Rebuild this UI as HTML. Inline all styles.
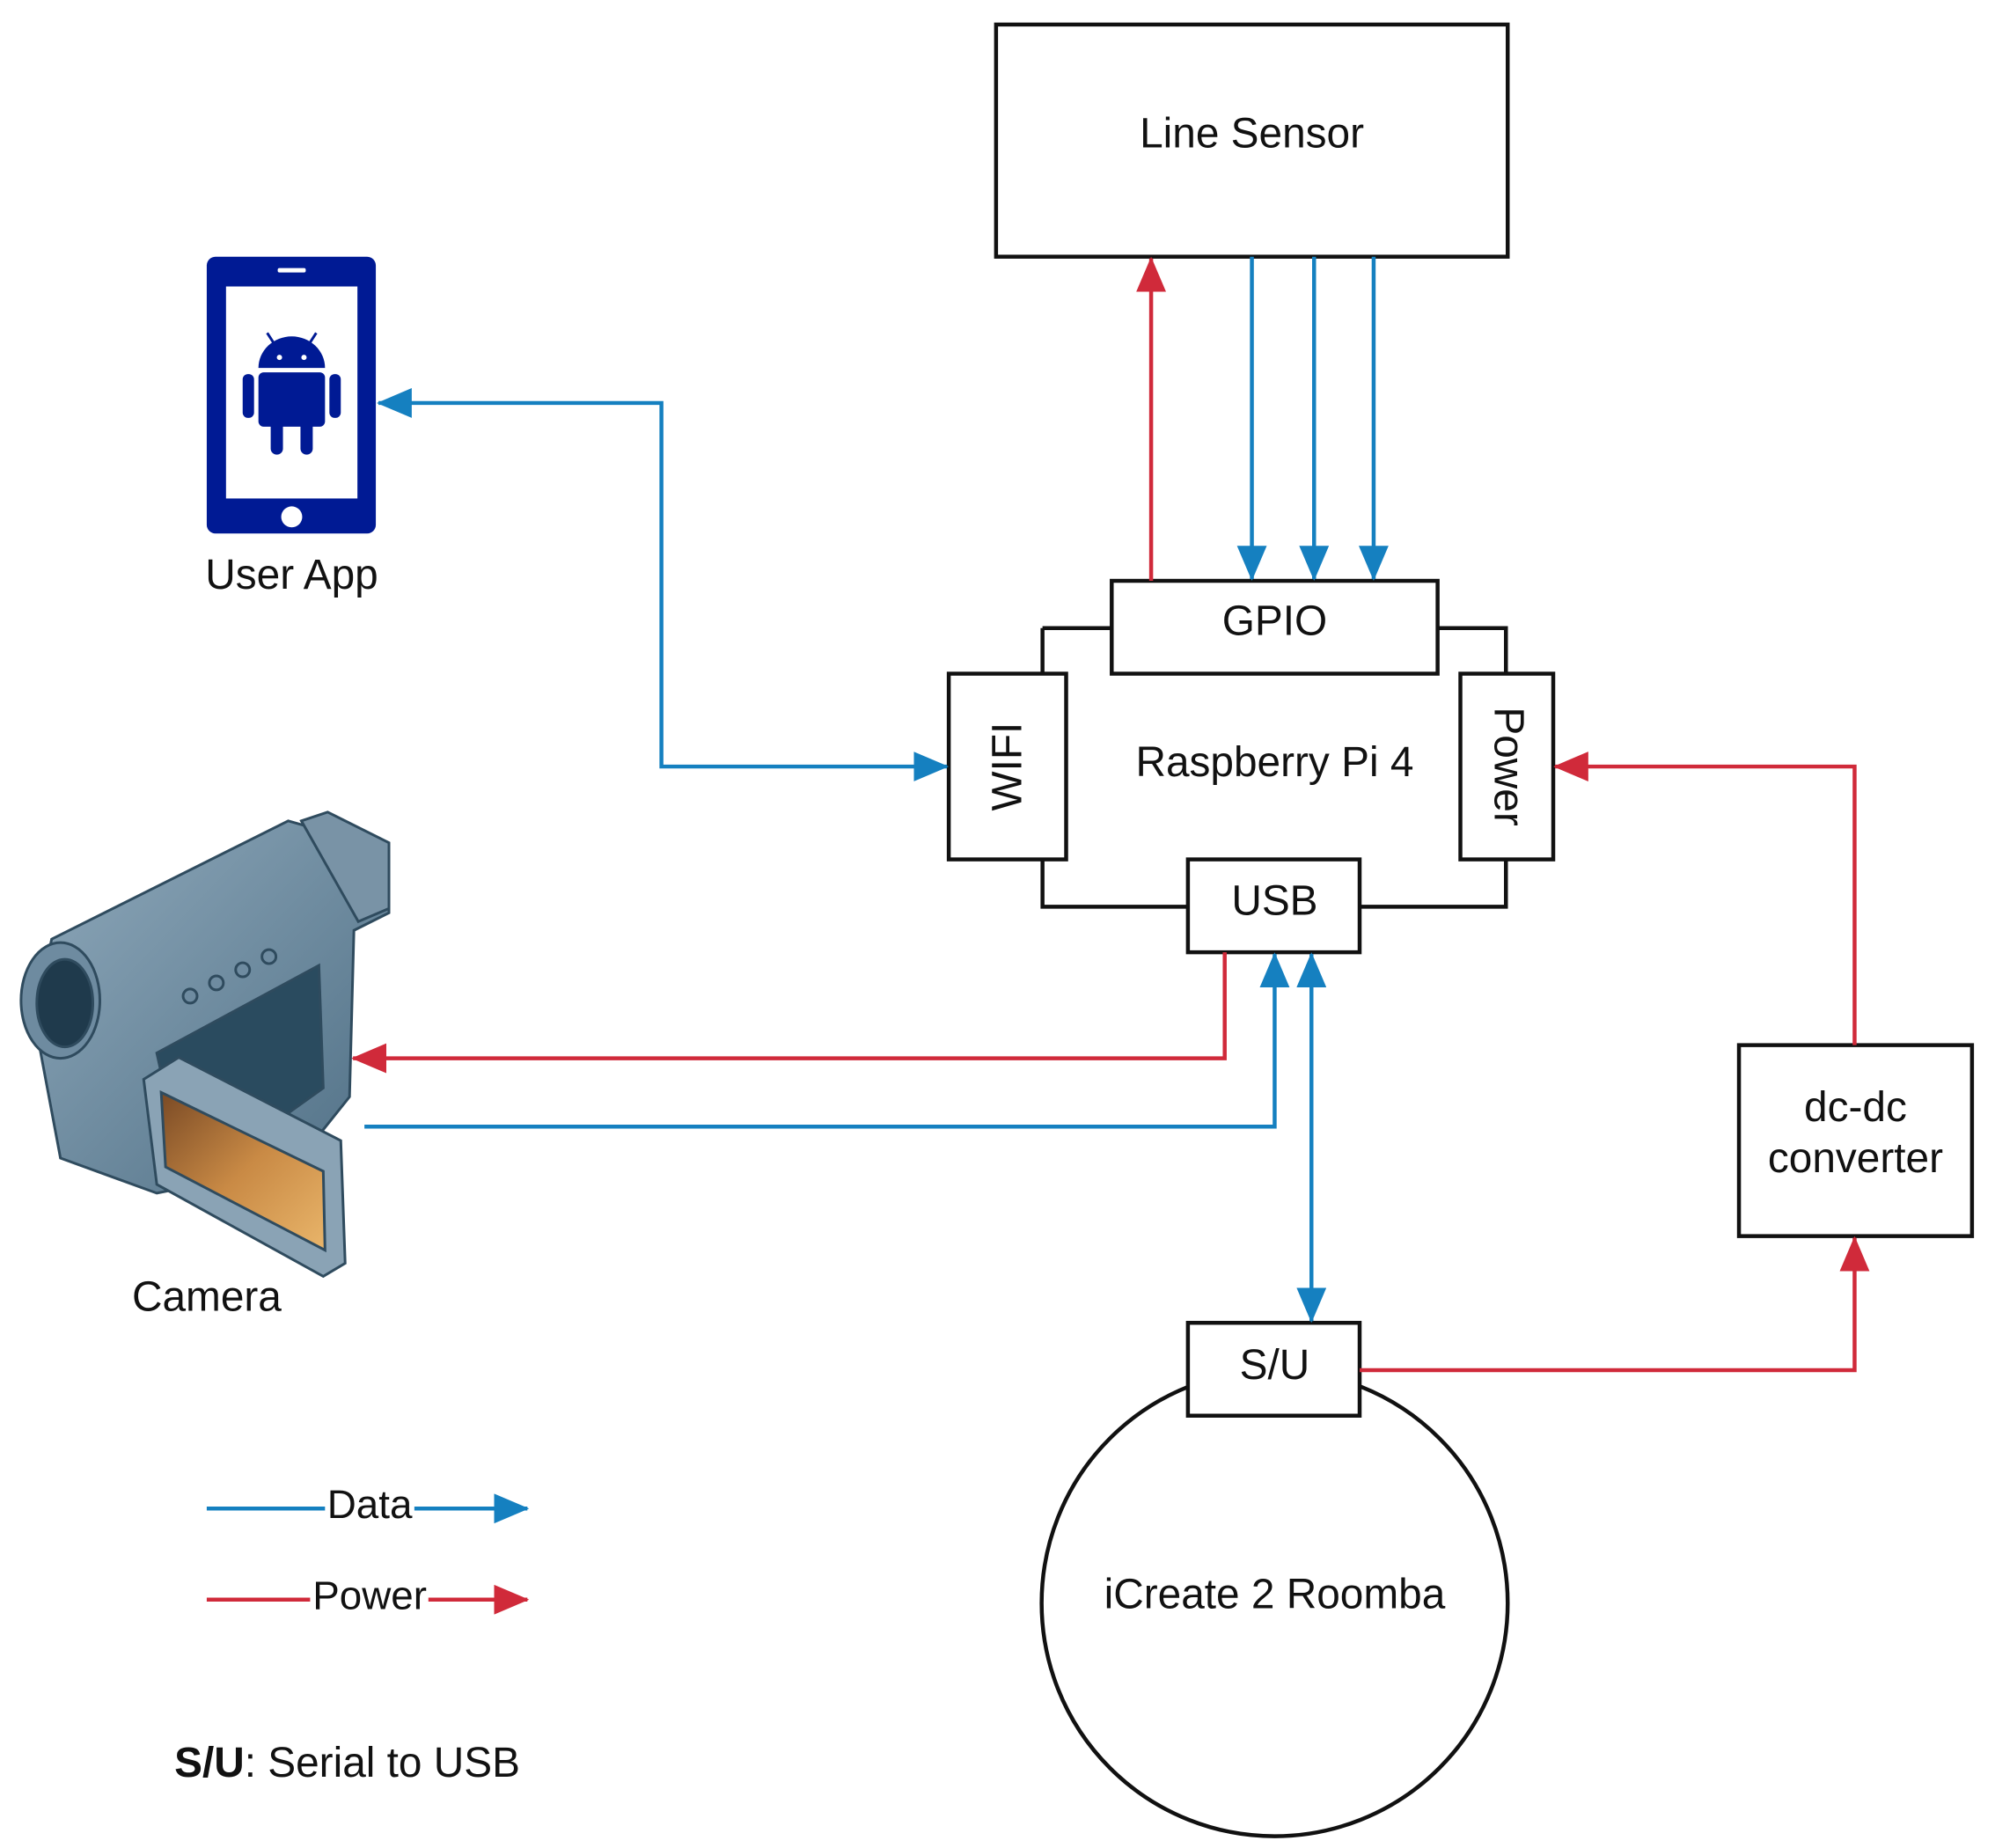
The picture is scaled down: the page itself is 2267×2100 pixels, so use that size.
<!DOCTYPE html>
<html><head><meta charset="utf-8"><style>
html,body{margin:0;padding:0;background:#fff;}
svg{display:block;}
text{font-family:"Liberation Sans",Arial,sans-serif;font-size:48px;fill:#111;}
</style></head><body>
<svg width="2267" height="2100" viewBox="0 0 2267 2100" xmlns="http://www.w3.org/2000/svg">
<defs>
<marker id="ab" markerUnits="userSpaceOnUse" markerWidth="40" markerHeight="34" refX="38" refY="17" orient="auto"><path d="M0,0 L40,17 L0,34 Z" fill="#1580c0"/></marker>
<marker id="ar" markerUnits="userSpaceOnUse" markerWidth="40" markerHeight="34" refX="38" refY="17" orient="auto"><path d="M0,0 L40,17 L0,34 Z" fill="#d02a3a"/></marker>
<marker id="abs" markerUnits="userSpaceOnUse" markerWidth="40" markerHeight="34" refX="2" refY="17" orient="auto"><path d="M40,0 L0,17 L40,34 Z" fill="#1580c0"/></marker>
<linearGradient id="cg" x1="0" y1="0" x2="1" y2="1"><stop offset="0" stop-color="#8fa9bb"/><stop offset="1" stop-color="#4f6f85"/></linearGradient>
<linearGradient id="sg" x1="0" y1="0" x2="1" y2="1"><stop offset="0" stop-color="#7a4a25"/><stop offset="0.5" stop-color="#c98a45"/><stop offset="1" stop-color="#e9b56a"/></linearGradient>
</defs>
<g transform="translate(-1,2) scale(0.9955)">
<g fill="none" stroke="#111" stroke-width="4.5">
<rect x="1138" y="26" width="584" height="265" fill="#fff"/>
<polyline points="1191,715 1191,1033 1720,1033 1720,715 1191,715"/>
<rect x="1270" y="661" width="372" height="106" fill="#fff"/>
<rect x="1084" y="767" width="134" height="212" fill="#fff"/>
<rect x="1668" y="767" width="106" height="212" fill="#fff"/>
<rect x="1357" y="979" width="196" height="106" fill="#fff"/>
<circle cx="1456" cy="1828" r="266" fill="#fff"/>
<rect x="1357" y="1508" width="196" height="106" fill="#fff"/>
<rect x="1986" y="1191" width="266" height="218" fill="#fff"/>
</g>

<text x="1430" y="166" text-anchor="middle">Line Sensor</text>
<text x="1456" y="723" text-anchor="middle">GPIO</text>
<text x="1456" y="884" text-anchor="middle">Raspberry Pi 4</text>
<text x="1456" y="1042" text-anchor="middle">USB</text>
<text x="1456" y="1572" text-anchor="middle">S/U</text>
<text x="1456" y="1834" text-anchor="middle">iCreate 2 Roomba</text>
<text x="2119" y="1278" text-anchor="middle">dc-dc</text>
<text x="2119" y="1336" text-anchor="middle">converter</text>
<text transform="translate(1167,873) rotate(-90)" text-anchor="middle">WIFI</text>
<text transform="translate(1707,873) rotate(90)" text-anchor="middle">Power</text>
<text x="334" y="670" text-anchor="middle">User App</text>
<text x="237" y="1494" text-anchor="middle">Camera</text>

<g fill="none" stroke-width="4.5">
<line x1="1315" y1="661" x2="1315" y2="293" stroke="#d02a3a" marker-end="url(#ar)"/>
<line x1="1430" y1="291" x2="1430" y2="659" stroke="#1580c0" marker-end="url(#ab)"/>
<line x1="1501" y1="291" x2="1501" y2="659" stroke="#1580c0" marker-end="url(#ab)"/>
<line x1="1569" y1="291" x2="1569" y2="659" stroke="#1580c0" marker-end="url(#ab)"/>
<polyline points="433,458 756,458 756,873 1082,873" stroke="#1580c0" marker-start="url(#abs)" marker-end="url(#ab)"/>
<polyline points="1399,1085 1399,1206 404,1206" stroke="#d02a3a" marker-end="url(#ar)"/>
<polyline points="417,1284 1456,1284 1456,1087" stroke="#1580c0" marker-end="url(#ab)"/>
<line x1="1498" y1="1087" x2="1498" y2="1506" stroke="#1580c0" marker-start="url(#abs)" marker-end="url(#ab)"/>
<polyline points="1553,1562 2118,1562 2118,1411" stroke="#d02a3a" marker-end="url(#ar)"/>
<polyline points="2118,1191 2118,873 1776,873" stroke="#d02a3a" marker-end="url(#ar)"/>
<line x1="237" y1="1720" x2="372" y2="1720" stroke="#1580c0"/>
<line x1="474" y1="1720" x2="603" y2="1720" stroke="#1580c0" marker-end="url(#ab)"/>
<line x1="237" y1="1824" x2="355" y2="1824" stroke="#d02a3a"/>
<line x1="490" y1="1824" x2="603" y2="1824" stroke="#d02a3a" marker-end="url(#ar)"/>
</g>
<text x="423" y="1731" text-anchor="middle" style="font-size:46px">Data</text>
<text x="423" y="1835" text-anchor="middle" style="font-size:46px">Power</text>
<text x="200" y="2026"><tspan font-weight="bold">S/U</tspan>: Serial to USB</text>

<!-- phone -->
<rect x="237" y="291" width="193" height="316" rx="10" fill="#001a94"/>
<rect x="259" y="325" width="150" height="242" fill="#fff"/>
<rect x="318" y="304" width="32" height="5" rx="2" fill="#fff"/>
<circle cx="334" cy="588" r="12" fill="#fff"/>
<g fill="#001a94">
<path d="M296,418 a38,36 0 0 1 76,0 Z"/>
<line x1="306" y1="378" x2="315" y2="392" stroke="#001a94" stroke-width="3"/>
<line x1="362" y1="378" x2="353" y2="392" stroke="#001a94" stroke-width="3"/>
<rect x="296" y="423" width="76" height="62" rx="6"/>
<rect x="278" y="425" width="13" height="50" rx="6"/>
<rect x="377" y="425" width="13" height="50" rx="6"/>
<rect x="310" y="475" width="14" height="42" rx="7"/>
<rect x="344" y="475" width="14" height="42" rx="7"/>
</g>
<circle cx="320" cy="406" r="3" fill="#fff"/><circle cx="348" cy="406" r="3" fill="#fff"/>

<!-- camera -->
<g stroke="#2f4b5e" stroke-width="3">
<path d="M60,1070 L330,935 L400,955 L445,975 L445,1040 L405,1060 L400,1250 L360,1300 L380,1320 L180,1360 L70,1320 L40,1160 Z" fill="url(#cg)"/>
<path d="M345,935 L375,925 L445,960 L445,1035 L410,1050 Z" fill="#7993a6"/>
<path d="M180,1200 L365,1100 L370,1240 L300,1290 L200,1290 Z" fill="#2a4b5f"/>
<ellipse cx="70" cy="1140" rx="45" ry="66" fill="#6e8ba0"/>
<ellipse cx="75" cy="1143" rx="32" ry="50" fill="#1f3a4c"/>
<path d="M165,1230 L205,1205 L390,1300 L395,1440 L370,1455 L180,1350 Z" fill="#8aa3b5"/>
<path d="M185,1245 L370,1335 L372,1425 L190,1330 Z" fill="url(#sg)"/>
<circle cx="218" cy="1135" r="8" fill="#6e8ba0"/><circle cx="248" cy="1120" r="8" fill="#6e8ba0"/>
<circle cx="278" cy="1105" r="8" fill="#6e8ba0"/><circle cx="308" cy="1090" r="8" fill="#6e8ba0"/>
</g>
</g>
</svg>
</body></html>
